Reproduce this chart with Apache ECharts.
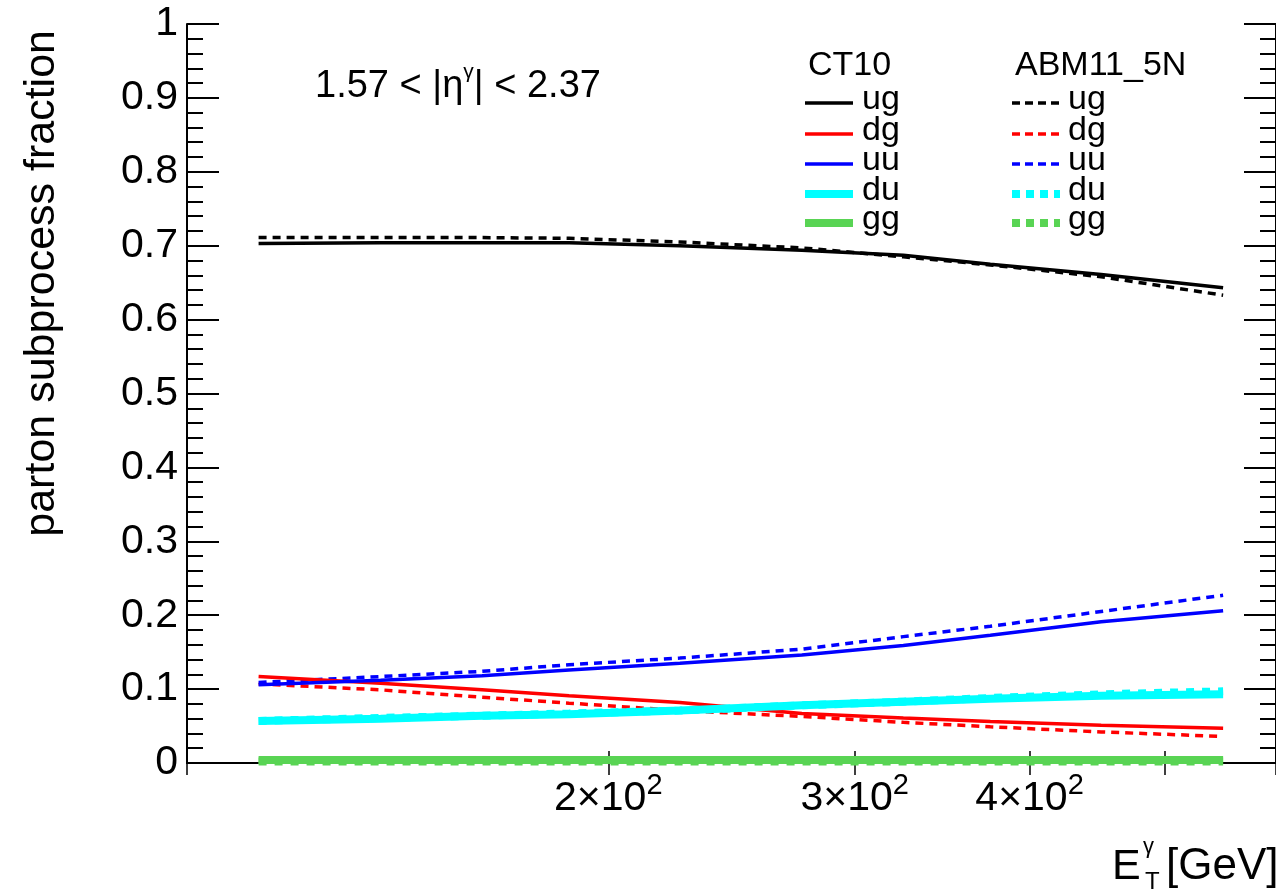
<!DOCTYPE html>
<html>
<head>
<meta charset="utf-8">
<title>parton subprocess fraction</title>
<script src="https://cdn.jsdelivr.net/npm/echarts@6/dist/echarts.min.js"></script>
<style>
  html, body { margin: 0; padding: 0; background: #ffffff; }
  #chart { width: 1276px; height: 893px; }
</style>
</head>
<body>
<div id="chart"></div>
<script>
// Photon transverse energy points (GeV)
const etPoints = [112.5, 137.5, 162.5, 187.5, 225, 275, 325, 375, 450, 550];

// CT10 subprocess fractions
const ct10Ug = [0.703, 0.704, 0.704, 0.704, 0.700, 0.694, 0.687, 0.675, 0.661, 0.643];
const ct10Dg = [0.117, 0.108, 0.099, 0.091, 0.082, 0.067, 0.061, 0.056, 0.051, 0.047];
const ct10Uu = [0.106, 0.112, 0.118, 0.126, 0.135, 0.146, 0.159, 0.173, 0.191, 0.206];
const ct10Du = [0.057, 0.060, 0.064, 0.066, 0.071, 0.078, 0.083, 0.087, 0.091, 0.093];
const ct10Gg = [0.004, 0.004, 0.004, 0.004, 0.004, 0.004, 0.004, 0.004, 0.004, 0.004];

// ABM11_5N subprocess fractions
const abmUg = [0.711, 0.711, 0.711, 0.710, 0.705, 0.697, 0.685, 0.674, 0.658, 0.633];
const abmDg = [0.107, 0.099, 0.089, 0.081, 0.071, 0.063, 0.055, 0.049, 0.042, 0.036];
const abmUu = [0.109, 0.117, 0.124, 0.133, 0.142, 0.154, 0.171, 0.185, 0.205, 0.227];
const abmDu = [0.057, 0.061, 0.064, 0.067, 0.071, 0.078, 0.083, 0.088, 0.093, 0.097];
const abmGg = [0.002, 0.002, 0.002, 0.002, 0.002, 0.002, 0.002, 0.002, 0.002, 0.002];

// Axis ticks
const xTickValues = [100, 200, 300, 400, 500, 600];
const xLabelValues = [200, 300, 400];

const channelNames = ['ug', 'dg', 'uu', 'du', 'gg'];
const channelColors = ['#000000', '#ff0000', '#0000ff', '#00ffff', '#59d454'];
const channelWidths = [3.5, 3.5, 3.5, 8, 8];
const ct10Sets = [ct10Ug, ct10Dg, ct10Uu, ct10Du, ct10Gg];
const abmSets = [abmUg, abmDg, abmUu, abmDu, abmGg];

const FONT = '"Liberation Sans", Arial, Helvetica, sans-serif';

function pairs(values) {
  return etPoints.map((et, i) => [et, values[i]]);
}

function sciLabel(v) {
  const e = Math.floor(Math.log10(v) + 1e-9);
  const m = Math.round(v / Math.pow(10, e));
  return '{n|' + m + '\u00d710}{s|' + e + '}';
}

const series = [];
// ABM11_5N dashed curves underneath
channelNames.forEach((name, i) => {
  const thick = channelWidths[i] > 5;
  series.push({
    name: 'ABM11_5N ' + name,
    type: 'line',
    xAxisIndex: 0,
    yAxisIndex: 0,
    data: pairs(abmSets[i]),
    showSymbol: false,
    silent: true,
    z: 2,
    lineStyle: {
      color: channelColors[i],
      width: channelWidths[i],
      type: thick ? [8, 8] : [8, 6],
      cap: 'butt'
    }
  });
});
// CT10 solid curves on top
channelNames.forEach((name, i) => {
  series.push({
    name: 'CT10 ' + name,
    type: 'line',
    xAxisIndex: 0,
    yAxisIndex: 0,
    data: pairs(ct10Sets[i]),
    showSymbol: false,
    silent: true,
    z: 3,
    lineStyle: { color: channelColors[i], width: channelWidths[i], type: 'solid', cap: 'butt' }
  });
});

// Legend block (two columns)
const legendRows = [103, 134, 164, 194, 223];
const legendGraphics = [
  { type: 'text', x: 808, y: 66, style: { text: 'CT10', font: '34px ' + FONT, fill: '#000', align: 'left', verticalAlign: 'middle' } },
  { type: 'text', x: 1015, y: 66, style: { text: 'ABM11_5N', font: '34px ' + FONT, fill: '#000', align: 'left', verticalAlign: 'middle' } }
];
channelNames.forEach((name, i) => {
  const y = legendRows[i];
  const thick = channelWidths[i] > 5;
  legendGraphics.push(
    { type: 'line', shape: { x1: 805, y1: y, x2: 853, y2: y },
      style: { stroke: channelColors[i], lineWidth: channelWidths[i] } },
    { type: 'text', x: 862, y: y - 3, style: { text: name, font: '34px ' + FONT, fill: '#000', align: 'left', verticalAlign: 'middle' } },
    { type: 'line', shape: { x1: 1012, y1: y, x2: 1060, y2: y },
      style: { stroke: channelColors[i], lineWidth: channelWidths[i], lineDash: thick ? [8, 6] : [8, 5] } },
    { type: 'text', x: 1068, y: y - 3, style: { text: name, font: '34px ' + FONT, fill: '#000', align: 'left', verticalAlign: 'middle' } }
  );
});

const chart = echarts.init(document.getElementById('chart'), null, { renderer: 'canvas' });

const commonY = {
  type: 'value',
  min: 0,
  max: 1,
  interval: 0.1,
  splitLine: { show: false },
  axisLine: { show: true, lineStyle: { color: '#000', width: 2 } },
  axisTick: { show: true, inside: true, length: 32, lineStyle: { color: '#000', width: 2 } },
  minorTick: { show: true, splitNumber: 5, length: 16, lineStyle: { color: '#000', width: 2 } }
};

const commonX = {
  type: 'log',
  logBase: 10,
  min: 100,
  max: 600,
  splitLine: { show: false },
  minorTick: { show: false },
  axisLine: { show: true, lineStyle: { color: '#000', width: 2 } },
  axisTick: { show: true, inside: true, length: 12, customValues: xTickValues, lineStyle: { color: '#000', width: 1.5 } }
};

chart.setOption({
  animation: false,
  backgroundColor: '#ffffff',
  grid: { left: 187, top: 24, width: 1091, height: 739, containLabel: false },
  xAxis: [
    Object.assign({}, commonX, {
      position: 'bottom',
      axisLabel: {
        show: true,
        customValues: xLabelValues,
        margin: 8,
        color: '#000',
        formatter: sciLabel,
        rich: {
          n: { fontSize: 41, fontFamily: FONT, color: '#000', lineHeight: 56 },
          s: { fontSize: 29, fontFamily: FONT, color: '#000', lineHeight: 29, verticalAlign: 'top' }
        }
      }
    }),
    Object.assign({}, commonX, {
      position: 'top',
      axisLabel: { show: false }
    })
  ],
  yAxis: [
    Object.assign({}, commonY, {
      position: 'left',
      axisLabel: {
        show: true,
        margin: 9,
        color: '#000',
        fontSize: 41,
        fontFamily: FONT,
        formatter: v => (v === 0 || v === 1) ? String(v) : v.toFixed(1)
      }
    }),
    Object.assign({}, commonY, {
      position: 'right',
      axisLabel: { show: false }
    })
  ],
  series: series,
  graphic: [
    // y-axis title
    { type: 'text', x: 42, y: 30, rotation: Math.PI / 2,
      style: { text: 'parton subprocess fraction', font: '43px ' + FONT, fill: '#000', align: 'right', verticalAlign: 'middle' } },
    // x-axis title: E_T^gamma [GeV]
    { type: 'text', x: 1112, y: 867, style: { text: 'E', font: '43px ' + FONT, fill: '#000', align: 'left', verticalAlign: 'middle' } },
    { type: 'text', x: 1143, y: 847, style: { text: '\u03b3', font: '22px ' + FONT, fill: '#000', align: 'left', verticalAlign: 'middle' } },
    { type: 'text', x: 1145, y: 882, style: { text: 'T', font: '24px ' + FONT, fill: '#000', align: 'left', verticalAlign: 'middle' } },
    { type: 'text', x: 1166, y: 867, style: { text: '[GeV]', font: '44px ' + FONT, fill: '#000', align: 'left', verticalAlign: 'middle' } },
    // pseudorapidity range
    { type: 'text', x: 315, y: 87,
      style: {
        text: '{a|1.57 < |\u03b7}{s|\u03b3}{a|| < 2.37}',
        align: 'left', verticalAlign: 'middle',
        rich: {
          a: { fontSize: 38, fontFamily: FONT, color: '#000', lineHeight: 50 },
          s: { fontSize: 21, fontFamily: FONT, color: '#000', lineHeight: 21, verticalAlign: 'top' }
        }
      } }
  ].concat(legendGraphics)
});
</script>
</body>
</html>
